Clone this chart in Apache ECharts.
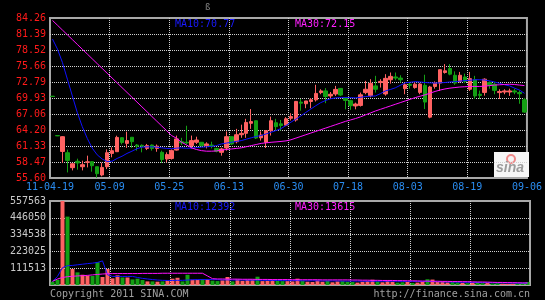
<!DOCTYPE html>
<html>
<head>
<meta charset="utf-8">
<script src="https://cdn.jsdelivr.net/npm/echarts@6/dist/echarts.min.js"></script>
<style>
html, body { margin: 0; padding: 0; background: #000; }
#chart { width: 545px; height: 300px; }
</style>
</head>
<body>
<div id="chart"></div>
<script>
// 日K线 + 成交量
var xTickLabels = ['11-04-19', '05-09', '05-25', '06-13', '06-30', '07-18', '08-03', '08-19', '09-06'];
var priceTicks = ['55.60', '58.47', '61.33', '64.20', '67.06', '69.93', '72.79', '75.66', '78.52', '81.39', '84.26'];
var volumeTicks = ['', '111513', '223025', '334538', '446050', '557563'];
var priceMaText = ['MA10:70.77', 'MA30:72.15'];
var volumeMaText = ['MA10:12392', 'MA30:13615'];

// [open, close, low, high]
var ohlc = [
	[70.25, 70.2, 70.15, 70.3], [63.2, 63.15, 63.1, 63.25], [60.36, 63.0, 58.3, 63.1], [60.13, 58.75, 56.6, 60.67],
	[57.45, 58.16, 56.96, 58.2], [58.6, 58.3, 57.09, 59.06], [57.62, 57.98, 56.96, 58.7], [58.4, 58.5, 57.5, 59.6],
	[58.52, 57.8, 56.73, 58.6], [57.62, 56.37, 55.65, 57.62], [56.14, 57.5, 55.9, 58.34], [57.62, 60.13, 57.2, 60.72],
	[60.0, 60.49, 59.3, 61.08], [60.31, 62.87, 60.3, 63.18], [62.82, 61.98, 61.62, 62.9], [61.8, 62.3, 61.0, 63.9],
	[62.9, 62.1, 61.0, 62.9], [61.5, 61.3, 60.5, 61.69], [61.45, 61.3, 60.2, 61.62], [60.9, 61.4, 60.6, 61.7],
	[61.5, 60.9, 60.5, 61.6], [60.9, 61.3, 60.3, 61.6], [60.2, 58.9, 58.3, 60.5], [59.0, 59.8, 58.4, 60.2],
	[59.1, 60.5, 58.9, 60.7], [60.6, 62.6, 60.5, 63.2], [62.1, 61.9, 61.5, 62.8], [62.0, 61.9, 61.6, 64.96],
	[61.4, 62.3, 60.9, 63.2], [62.0, 62.4, 61.7, 63.0], [62.0, 61.4, 61.2, 62.0], [61.4, 61.7, 60.9, 62.0],
	[61.5, 61.3, 60.9, 62.1], [60.9, 60.4, 60.2, 61.0], [60.2, 60.8, 59.6, 61.0], [60.97, 63.0, 60.5, 63.95],
	[63.0, 61.7, 61.5, 63.0], [62.1, 63.35, 61.8, 64.4], [63.35, 63.6, 62.8, 65.15], [63.6, 65.55, 62.8, 66.2],
	[65.4, 65.7, 64.4, 67.95], [65.86, 62.76, 62.6, 65.86], [62.8, 63.3, 62.3, 63.95], [61.97, 64.07, 60.97, 64.2],
	[64.07, 65.86, 63.2, 66.6], [65.5, 64.8, 64.07, 66.2], [65.3, 65.0, 64.1, 66.0], [65.06, 66.2, 64.9, 66.5],
	[66.3, 66.6, 65.9, 67.2], [65.99, 69.32, 65.7, 69.4], [69.2, 69.0, 67.65, 69.75], [68.9, 69.4, 68.1, 69.4],
	[69.3, 69.6, 68.1, 69.93], [69.6, 70.75, 69.3, 72.3], [70.9, 71.2, 70.6, 71.5], [71.2, 70.2, 69.0, 71.7],
	[70.3, 70.6, 69.8, 71.0], [70.65, 71.47, 70.3, 72.1], [71.65, 70.47, 70.3, 71.7], [70.0, 69.5, 67.9, 70.1],
	[69.45, 68.55, 67.8, 69.6], [68.5, 68.85, 67.9, 69.1], [68.6, 70.5, 68.4, 70.9], [70.9, 71.5, 70.6, 73.0],
	[70.35, 72.55, 70.05, 73.3], [72.1, 71.5, 70.9, 73.9], [72.7, 72.9, 71.8, 73.3], [70.65, 73.45, 70.35, 74.2],
	[73.2, 73.8, 72.5, 74.5], [73.7, 73.5, 73.1, 74.5], [73.5, 73.2, 72.7, 74.0], [71.6, 72.3, 70.6, 72.7],
	[72.4, 72.2, 71.6, 72.8], [71.8, 72.4, 71.6, 72.8], [70.93, 72.43, 70.6, 72.6], [72.2, 69.2, 67.95, 74.1],
	[66.5, 71.9, 66.3, 72.1], [72.0, 72.6, 71.6, 72.9], [72.6, 75.0, 71.2, 75.0], [74.5, 74.8, 74.3, 76.0],
	[75.2, 74.2, 74.0, 76.0], [74.0, 72.6, 72.3, 74.7], [72.9, 74.0, 72.7, 74.6], [73.7, 72.9, 72.6, 74.3],
	[71.5, 73.4, 71.2, 74.6], [73.2, 70.3, 69.75, 73.9], [70.6, 70.4, 69.75, 71.25], [70.93, 73.3, 70.35, 73.45],
	[72.7, 72.2, 71.6, 72.9], [72.4, 71.3, 70.6, 72.8], [70.9, 71.1, 69.75, 71.5], [71.0, 71.2, 70.6, 71.5],
	[71.0, 71.2, 70.3, 71.6], [71.2, 71.0, 70.6, 71.6], [70.9, 70.7, 68.9, 71.3], [69.6, 67.4, 67.3, 69.95]
];

var ma10 = [
	80.5, 78.7, 76.3, 73.3, 70.3, 67.3, 64.8, 62.7, 60.95, 59.75,
	59.0, 58.55, 58.6, 59.1, 59.5, 60.0, 60.4, 60.85, 61.12, 61.18,
	61.18, 61.12, 61.0, 60.9, 60.85, 60.95, 61.0, 60.92, 60.95, 61.05,
	61.12, 61.18, 61.26, 61.4, 61.7, 61.85, 62.0, 62.15, 62.3, 62.55,
	62.8, 63.05, 63.2, 63.5, 63.8, 64.1, 64.45, 65.0, 65.6, 66.15,
	66.75, 67.35, 67.95, 68.55, 69.1, 69.5, 69.8, 69.95, 70.0, 70.0,
	70.0, 69.95, 70.05, 70.2, 70.25, 70.3, 70.7, 71.2, 71.45, 71.75,
	72.2, 72.65, 72.75, 72.85, 72.8, 72.7, 72.65, 72.6, 72.65, 72.7,
	72.8, 72.85, 72.95, 73.05, 73.1, 73.2, 73.2, 73.15, 73.0, 72.8,
	72.55, 72.3, 72.1, 71.7, 71.35, 70.77
];

var ma30 = [
	83.83, 82.97, 82.11, 81.25, 80.39, 79.53, 78.67, 77.81, 76.95, 76.09,
	75.23, 74.37, 73.51, 72.65, 71.79, 70.93, 70.07, 69.21, 68.35, 67.49,
	66.63, 65.77, 64.91, 64.05, 63.19, 62.7, 62.0, 61.5, 61.0, 60.7,
	60.5, 60.4, 60.4, 60.45, 60.6, 60.7, 60.8, 60.9, 61.0, 61.2,
	61.4, 61.6, 61.8, 61.9, 62.0, 62.07, 62.15, 62.25, 62.45, 62.75,
	63.05, 63.35, 63.65, 63.95, 64.25, 64.55, 64.85, 65.15, 65.45, 65.75,
	66.0, 66.25, 66.55, 66.9, 67.25, 67.6, 67.9, 68.2, 68.5, 68.8,
	69.1, 69.4, 69.7, 70.0, 70.25, 70.5, 70.8, 71.1, 71.35, 71.55,
	71.7, 71.8, 71.9, 71.95, 72.0, 72.0, 72.0, 72.05, 72.15, 72.25,
	72.3, 72.35, 72.4, 72.35, 72.25, 72.15
];

var volumes = [
	22000, 35000, 557563, 454000, 106000, 84000, 68000, 62000, 60000, 152000,
	53000, 106000, 44000, 64000, 50000, 50000, 37000, 42000, 33000, 24000,
	24000, 22000, 24000, 29000, 42000, 48000, 24000, 68000, 35000, 35000,
	40000, 37000, 29000, 26000, 31000, 53000, 24000, 37000, 28000, 35000,
	35000, 55000, 26000, 29000, 35000, 28000, 26000, 26000, 24000, 42000,
	28000, 22000, 20000, 30000, 22000, 28000, 18000, 24000, 26000, 22000,
	20000, 16000, 22000, 26000, 35000, 24000, 18000, 30000, 22000, 16000,
	18000, 20000, 14000, 16000, 22000, 38000, 36000, 20000, 24000, 18000,
	20000, 18000, 14000, 12000, 16000, 20000, 12000, 14000, 10000, 12000,
	9000, 8000, 9000, 10000, 14000, 20000
];

var volMa10 = [
	24000, 57000, 115000, 128000, 130000, 134000, 138000, 142000, 145000, 150000,
	160000, 68000, 57000, 57000, 57000, 57000, 57000, 50000, 44000, 40000,
	36000, 33000, 31000, 30000, 30000, 31000, 31000, 33000, 35000, 36000,
	36000, 37000, 36000, 35000, 34000, 34000, 33000, 33000, 33000, 32000,
	32000, 32000, 31000, 31000, 30000, 30000, 29000, 29000, 29000, 29000,
	28000, 28000, 28000, 28000, 27000, 27000, 27000, 27000, 26000, 26000,
	26000, 26000, 25000, 25000, 25000, 25000, 25000, 25000, 25000, 25000,
	24000, 24000, 24000, 24000, 24000, 24000, 23000, 22000, 21000, 20000,
	20000, 19000, 18000, 18000, 17000, 17000, 16000, 16000, 15000, 15000,
	14000, 14000, 13000, 13000, 12500, 12392
];

var volMa30 = [
	24000, 40000, 50000, 55000, 58000, 60000, 62000, 64000, 67000, 70000,
	73000, 75000, 76000, 76000, 76000, 76000, 76000, 76000, 77000, 77000,
	77000, 77000, 78000, 78000, 78000, 78000, 78000, 78000, 78000, 78000,
	78000, 60000, 42000, 40000, 40000, 39000, 39000, 39000, 38000, 38000,
	38000, 37000, 37000, 37000, 36000, 36000, 36000, 36000, 35000, 35000,
	35000, 35000, 35000, 35000, 34000, 34000, 34000, 34000, 34000, 34000,
	33000, 33000, 32000, 32000, 31000, 31000, 30000, 30000, 30000, 29000,
	29000, 28000, 28000, 27000, 26000, 26000, 25000, 25000, 24000, 24000,
	23000, 23000, 22000, 22000, 21000, 20000, 20000, 19000, 18000, 17000,
	17000, 16000, 15500, 15000, 14000, 13615
];

var UP = '#ff6262';
var DOWN = '#14a014';
var FONT = 'DejaVu Sans Mono';

function loadChart(){
	var chart = echarts.init(document.getElementById('chart'));
	var days = ohlc.map(function(d, i){ return i; });
	var dotLine = {
		show: true,
		showMinLine: false,
		showMaxLine: false,
		lineStyle: { color: '#d0d0d0', width: 1, type: [1, 1] }
	};
	var volData = volumes.map(function(v, i){
		return { value: v, itemStyle: { color: ohlc[i][1] >= ohlc[i][0] ? UP : DOWN } };
	});
	var option = {
		backgroundColor: '#000',
		animation: false,
		grid: [
			{ left: 50, top: 18, width: 480, height: 160, show: true, borderColor: '#a8a8a8', borderWidth: 2 },
			{ left: 50, top: 201, width: 480, height: 84, show: true, borderColor: '#a8a8a8', borderWidth: 2 }
		],
		xAxis: [
			{ type: 'category', gridIndex: 0, position: 'top', data: days, boundaryGap: true, show: false },
			{
				type: 'value', gridIndex: 0, position: 'bottom', min: 0, max: 96, interval: 12,
				axisLine: { show: false }, axisTick: { show: false },
				splitLine: dotLine,
				axisLabel: {
					color: '#2a8cf0', fontFamily: FONT, fontSize: 10, margin: 4,
					showMinLabel: true, showMaxLabel: true,
					formatter: function(v){ return xTickLabels[Math.round(v / 12)]; }
				}
			},
			{ type: 'category', gridIndex: 1, position: 'top', data: days, boundaryGap: true, show: false },
			{
				type: 'value', gridIndex: 1, position: 'bottom', min: 0, max: 96, interval: 12,
				axisLine: { show: false }, axisTick: { show: false },
				axisLabel: { show: false },
				splitLine: dotLine
			}
		],
		yAxis: [
			{
				type: 'value', gridIndex: 0, min: 55.6, max: 84.26, interval: 2.866,
				axisLine: { show: false }, axisTick: { show: false },
				splitLine: dotLine,
				axisLabel: {
					color: '#ff1a1a', fontFamily: FONT, fontSize: 10, margin: 4,
					showMinLabel: true, showMaxLabel: true,
					formatter: function(v){ return priceTicks[Math.round((v - 55.6) / 2.866)]; }
				}
			},
			{
				type: 'value', gridIndex: 1, min: 0, max: 557563, interval: 111512.6,
				axisLine: { show: false }, axisTick: { show: false },
				splitLine: dotLine,
				axisLabel: {
					color: '#c8c8c8', fontFamily: FONT, fontSize: 10, margin: 4,
					showMinLabel: true, showMaxLabel: true,
					formatter: function(v){ return volumeTicks[Math.round(v / 111512.6)]; }
				}
			}
		],
		series: [
			{
				name: 'K', type: 'candlestick', xAxisIndex: 0, yAxisIndex: 0,
				data: ohlc, barWidth: 4,
				itemStyle: { color: UP, color0: DOWN, borderColor: UP, borderColor0: DOWN, borderWidth: 1 }
			},
			{
				name: 'MA10', type: 'line', xAxisIndex: 0, yAxisIndex: 0, data: ma10,
				showSymbol: false, lineStyle: { color: '#1010ff', width: 1 }
			},
			{
				name: 'MA30', type: 'line', xAxisIndex: 0, yAxisIndex: 0, data: ma30,
				showSymbol: false, lineStyle: { color: '#ff10ff', width: 1 }
			},
			{
				name: 'VOL', type: 'bar', xAxisIndex: 2, yAxisIndex: 1, data: volData, barWidth: 4
			},
			{
				name: 'VMA10', type: 'line', xAxisIndex: 2, yAxisIndex: 1, data: volMa10,
				showSymbol: false, lineStyle: { color: '#1010ff', width: 1 }
			},
			{
				name: 'VMA30', type: 'line', xAxisIndex: 2, yAxisIndex: 1, data: volMa30,
				showSymbol: false, lineStyle: { color: '#ff10ff', width: 1 }
			}
		],
		graphic: [
			{ type: 'text', left: 175, top: 19, style: { text: priceMaText[0], fill: '#1a1aff', font: '10px ' + FONT } },
			{ type: 'text', left: 295, top: 19, style: { text: priceMaText[1], fill: '#ff20ff', font: '10px ' + FONT } },
			{ type: 'text', left: 175, top: 202, style: { text: volumeMaText[0], fill: '#1a1aff', font: '10px ' + FONT } },
			{ type: 'text', left: 295, top: 202, style: { text: volumeMaText[1], fill: '#ff20ff', font: '10px ' + FONT } },
			{ type: 'text', left: 50, top: 289, style: { text: 'Copyright 2011 SINA.COM', fill: '#a0a0a0', font: '10px ' + FONT } },
			{ type: 'text', right: 15, top: 289, style: { text: 'http://finance.sina.com.cn', fill: '#a0a0a0', font: '10px ' + FONT } },
			{ type: 'text', left: 205, top: 3, style: { text: 'ß', fill: '#8a8a8a', font: '9px ' + FONT } },
			{
				type: 'group', left: 494, top: 152, z: 50,
				children: [
					{ type: 'rect', shape: { x: 0, y: 0, width: 35, height: 25 }, style: { fill: '#f6f6f6' } },
					{ type: 'circle', shape: { cx: 17, cy: 7, r: 4 }, style: { fill: 'none', stroke: '#f08a8a', lineWidth: 2 } },
					{ type: 'text', x: 2, y: 9, style: { text: 'sina', fill: '#9c9c9c', font: 'italic bold 14px Liberation Sans' } }
				]
			}
		]
	};
	chart.setOption(option);
}
loadChart();
</script>
</body>
</html>
